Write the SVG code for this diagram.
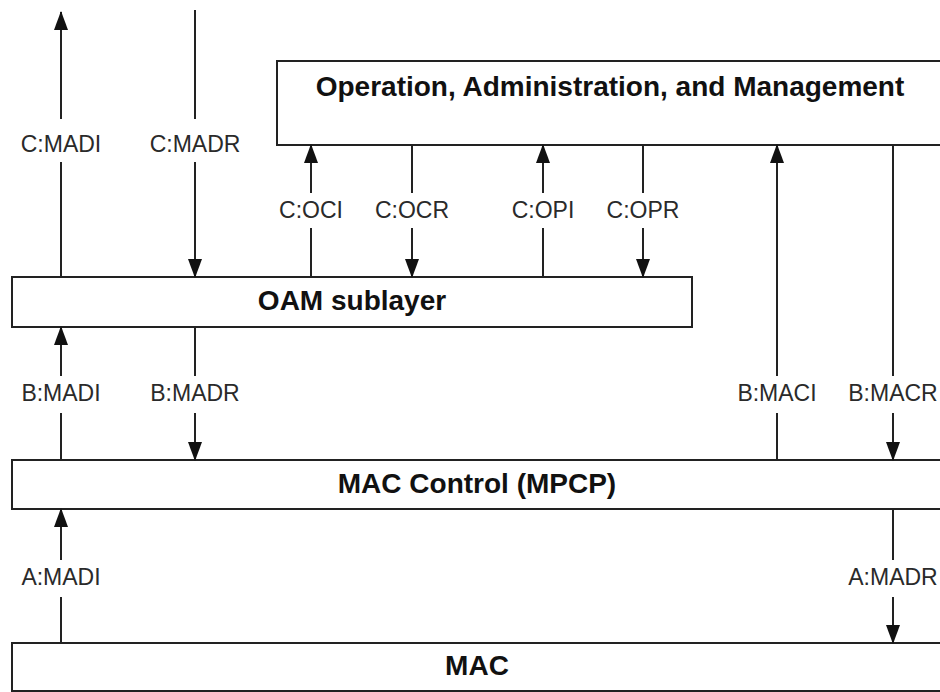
<svg xmlns="http://www.w3.org/2000/svg" width="940" height="692" viewBox="0 0 940 692">
<style>
.box{fill:#fff;stroke:#222;stroke-width:2}
.title{font-family:"Liberation Sans",Arial,sans-serif;font-weight:bold;font-size:28px;fill:#111;text-anchor:middle}
.conn{stroke:#222;stroke-width:2;fill:none}
.up{marker-end:url(#arrow)}
.lbl{font-family:"Liberation Sans",Arial,sans-serif;font-size:23px;fill:#2a2a2a;text-anchor:middle}
.bg{fill:#fff}
</style>
<defs>
<marker id="arrow" markerUnits="userSpaceOnUse" markerWidth="19" markerHeight="14" viewBox="0 0 19 14" refX="18" refY="7" orient="auto">
<path d="M0,0 L19,7 L0,14 z" fill="#111"/>
</marker>
</defs>
<rect width="940" height="692" fill="#fff"/>
<g id="oam-mgmt">
<rect class="box" x="277" y="61" width="666" height="84"/>
<text class="title" x="610" y="96">Operation, Administration, and Management</text>
</g>
<g id="oam-sublayer">
<rect class="box" x="12" y="277" width="680" height="50"/>
<text class="title" x="352" y="310">OAM sublayer</text>
</g>
<g id="mac-control">
<rect class="box" x="12" y="460" width="931" height="49"/>
<text class="title" x="477" y="493">MAC Control (MPCP)</text>
</g>
<g id="mac">
<rect class="box" x="12" y="643" width="931" height="48"/>
<text class="title" x="477" y="675">MAC</text>
</g>
<g id="connectors">
<line class="conn up" x1="61" y1="277" x2="61" y2="12"/>
<line class="conn up" x1="195" y1="10" x2="195" y2="277"/>
<line class="conn up" x1="311" y1="277" x2="311" y2="145"/>
<line class="conn up" x1="412" y1="145" x2="412" y2="277"/>
<line class="conn up" x1="543" y1="277" x2="543" y2="145"/>
<line class="conn up" x1="643" y1="145" x2="643" y2="277"/>
<line class="conn up" x1="777" y1="460" x2="777" y2="145"/>
<line class="conn up" x1="893" y1="145" x2="893" y2="460"/>
<line class="conn up" x1="61" y1="460" x2="61" y2="327"/>
<line class="conn up" x1="195" y1="327" x2="195" y2="460"/>
<line class="conn up" x1="61" y1="643" x2="61" y2="509"/>
<line class="conn up" x1="893" y1="509" x2="893" y2="643"/>
</g>
<g id="labels">
<rect class="bg" x="16" y="119" width="90" height="43"/>
<text class="lbl" x="61" y="152">C:MADI</text>
<rect class="bg" x="146" y="119" width="98" height="43"/>
<text class="lbl" x="195" y="152">C:MADR</text>
<rect class="bg" x="272" y="193" width="78" height="35"/>
<text class="lbl" x="311" y="218">C:OCI</text>
<rect class="bg" x="367" y="193" width="90" height="35"/>
<text class="lbl" x="412" y="218">C:OCR</text>
<rect class="bg" x="505" y="193" width="76" height="35"/>
<text class="lbl" x="543" y="218">C:OPI</text>
<rect class="bg" x="599" y="193" width="88" height="35"/>
<text class="lbl" x="643" y="218">C:OPR</text>
<rect class="bg" x="16" y="376" width="90" height="37"/>
<text class="lbl" x="61" y="401">B:MADI</text>
<rect class="bg" x="146" y="376" width="98" height="37"/>
<text class="lbl" x="195" y="401">B:MADR</text>
<rect class="bg" x="733" y="376" width="88" height="37"/>
<text class="lbl" x="777" y="401">B:MACI</text>
<rect class="bg" x="846" y="376" width="94" height="37"/>
<text class="lbl" x="893" y="401">B:MACR</text>
<rect class="bg" x="16" y="560" width="90" height="37"/>
<text class="lbl" x="61" y="585">A:MADI</text>
<rect class="bg" x="846" y="560" width="94" height="37"/>
<text class="lbl" x="893" y="585">A:MADR</text>
</g>
</svg>
